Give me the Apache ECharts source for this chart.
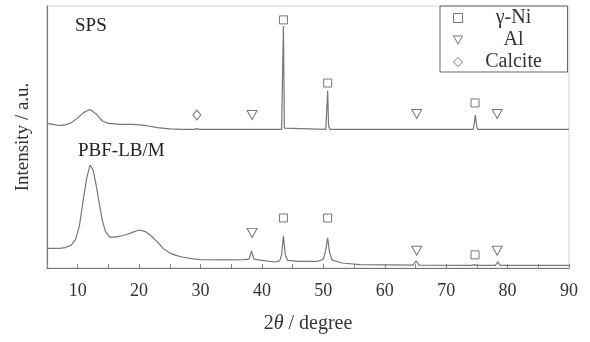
<!DOCTYPE html>
<html>
<head>
<meta charset="utf-8">
<script src="https://cdn.jsdelivr.net/npm/echarts@6/dist/echarts.min.js"></script>
<style>html,body{margin:0;padding:0;background:#fff}#c{width:590px;height:342px}</style>
</head>
<body>
<div id="c"></div>
<script>
// X-ray diffraction patterns (2θ in degree, intensity in a.u., traces offset)
const spsTheta = [5,6,7,8,9,10,11,12,13,14,15,17,19,21,23,25,27,29,29.4,29.8,34,38,38.3,38.6,43.2,43.35,43.5,43.65,43.9,50.4,50.55,50.7,50.85,51.1,64.9,65.2,65.5,74.4,74.6,74.75,74.9,75.1,90];
const spsIntensity = [55.2,54.8,54.4,54.6,55.5,57.3,59.4,60.5,58.8,56.1,55.2,54.8,54.8,54.4,53.6,53.1,52.9,52.9,53.2,52.9,52.9,52.9,53.2,52.9,52.9,53.4,92.4,53.4,52.9,52.9,53.6,67.6,54.2,52.9,52.9,53.1,52.9,52.9,55.7,58.4,55.0,52.9,52.9];

const pbfTheta = [5,7,8,9,9.7,10.3,10.9,11.5,12,12.5,13,13.5,14,14.5,15.2,16,17,18,19,20,21,22,23,24,25,26,27,28.5,30,34,37,37.9,38.3,38.7,40,42,42.9,43.2,43.5,43.8,44.2,46,49,50,50.4,50.7,51,51.4,53,56,64.6,65.1,65.6,74.2,74.6,75,78,78.4,78.8,90];
const pbfIntensity = [7.5,7.5,7.8,8.8,11.1,16.4,26.0,34.7,39.3,37.4,31.7,24.8,18.3,14.1,11.8,11.8,12.2,12.8,13.7,14.5,13.9,12.2,9.9,7.3,5.7,4.8,4.2,3.6,3.2,3.1,3.2,3.4,6.5,3.4,2.9,2.3,2.7,5.0,12.2,5.0,2.9,2.5,2.5,3.4,6.9,11.5,6.1,3.1,1.9,1.3,1.1,2.7,1.1,1.0,1.3,1.0,1.0,2.3,1.0,1.0];

// phase markers [2θ, height]
const niMarks = [[43.5,94.7],[50.7,70.6],[74.7,63.0],[43.5,19.1],[50.7,19.1],[74.7,5.0]];
const alMarks = [[38.4,58.4],[65.2,58.8],[78.3,58.8],[38.4,13.4],[65.2,6.6],[78.3,6.6]];
const calciteMarks = [[29.4,58.4]];

const xTicks = [10,20,30,40,50,60,70,80,90];
const sampleLabels = ['SPS','PBF-LB/M'];

const zip = (a,b) => a.map((v,i)=>[v,b[i]]);
const serif = '"Liberation Serif","DejaVu Serif",serif';
const markStyle = {color:'#fff', borderColor:'#555', borderWidth:1};
const downTriangle = 'path://M0,0L10,0L5,9Z';

const chart = echarts.init(document.getElementById('c'), null, {renderer:'canvas'});
chart.setOption({
  animation:false,
  grid:{left:47,right:21,top:6,bottom:74,show:true,borderColor:'#d4d4d4',borderWidth:1},
  xAxis:{type:'value',min:5,max:90,interval:5,
    axisLine:{lineStyle:{color:'#777',width:1.2}},
    axisTick:{inside:true,length:4,lineStyle:{color:'#888'}},
    axisLabel:{margin:14,color:'#333',fontFamily:serif,fontSize:18,
      formatter:v=> xTicks.indexOf(v)>=0 ? String(v) : ''},
    splitLine:{show:false},
    name:'2{i|θ} / degree',nameLocation:'middle',nameGap:46,
    nameTextStyle:{color:'#333',fontFamily:serif,fontSize:20,rich:{i:{fontStyle:'italic',fontFamily:serif,fontSize:20,color:'#333'}}}
  },
  yAxis:{type:'value',min:0,max:100,
    axisLine:{show:true,lineStyle:{color:'#777',width:1.2}},
    axisTick:{show:false},axisLabel:{show:false},splitLine:{show:false},
    name:'Intensity / a.u.',nameLocation:'middle',nameGap:14,
    nameTextStyle:{color:'#333',fontFamily:serif,fontSize:19}
  },
  legend:{
    left:440,top:6,orient:'vertical',
    data:['γ-Ni','Al','Calcite'],
    itemWidth:9,itemHeight:9,itemGap:2,
    padding:[2,8,0,13],
    borderColor:'#666',borderWidth:1,
    itemStyle:{borderWidth:1},
    formatter:n=>'{a|'+n+'}',
    textStyle:{color:'#333',fontFamily:serif,fontSize:20,
      rich:{a:{width:92,align:'center',fontFamily:serif,fontSize:20,lineHeight:20,color:'#333'}}}
  },
  graphic:[
    {type:'text',left:75,top:17,style:{text:sampleLabels[0],font:'19px '+serif,fill:'#222'}},
    {type:'text',left:78,top:142,style:{text:sampleLabels[1],font:'19px '+serif,fill:'#222'}}
  ],
  series:[
    {type:'line',data:zip(spsTheta,spsIntensity),showSymbol:false,lineStyle:{color:'#777',width:1.2},z:2},
    {type:'line',data:zip(pbfTheta,pbfIntensity),showSymbol:false,lineStyle:{color:'#777',width:1.2},z:2},
    {name:'γ-Ni',type:'scatter',data:niMarks,symbol:'rect',symbolSize:8,itemStyle:markStyle,z:3},
    {name:'Al',type:'scatter',data:alMarks,symbol:downTriangle,symbolSize:[10,9],itemStyle:markStyle,z:3},
    {name:'Calcite',type:'scatter',data:calciteMarks,symbol:'diamond',symbolSize:[8,10],itemStyle:markStyle,z:3}
  ]
});
</script>
</body>
</html>
